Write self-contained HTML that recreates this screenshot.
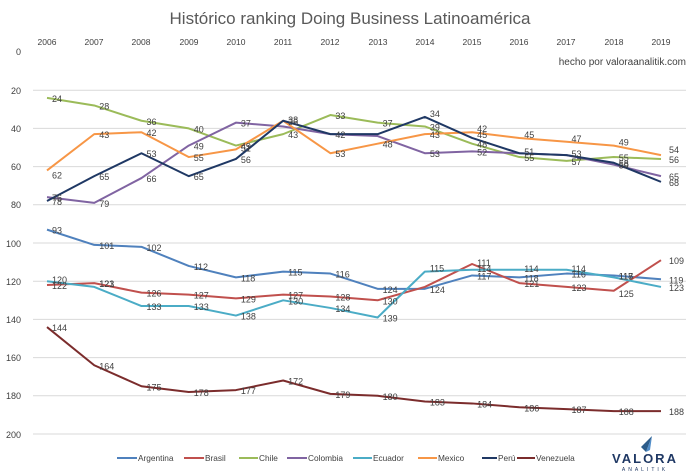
<!DOCTYPE html>
<html><head><meta charset="utf-8"><style>
body{margin:0;background:#fff}
svg{display:block;font-family:"Liberation Sans",sans-serif}
.l{fill:none;stroke-width:2;vector-effect:non-scaling-stroke;stroke-linejoin:round}
.d text{font-size:9px;fill:#404040}
</style></head><body>
<svg width="700" height="473" viewBox="0 0 700 473">
<text x="350" y="24" text-anchor="middle" font-size="17" fill="#595959">Histórico ranking Doing Business Latinoamérica</text>
<g font-size="8.5" fill="#404040" text-anchor="middle">
<text x="47" y="45">2006</text><text x="94" y="45">2007</text><text x="141" y="45">2008</text><text x="189" y="45">2009</text><text x="236" y="45">2010</text><text x="283" y="45">2011</text><text x="330" y="45">2012</text><text x="378" y="45">2013</text><text x="425" y="45">2014</text><text x="472" y="45">2015</text><text x="519" y="45">2016</text><text x="566" y="45">2017</text><text x="614" y="45">2018</text><text x="661" y="45">2019</text>
</g>
<g font-size="9" fill="#404040" text-anchor="end">
<text x="21" y="55">0</text><text x="21" y="94">20</text><text x="21" y="132">40</text><text x="21" y="170">60</text><text x="21" y="208">80</text><text x="21" y="247">100</text><text x="21" y="285">120</text><text x="21" y="323">140</text><text x="21" y="361">160</text><text x="21" y="399">180</text><text x="21" y="438">200</text>
</g>
<g stroke="#d9d9d9" stroke-width="1">
<line x1="33" x2="686" y1="90.2" y2="90.2"/><line x1="33" x2="686" y1="128.4" y2="128.4"/><line x1="33" x2="686" y1="166.6" y2="166.6"/><line x1="33" x2="686" y1="204.8" y2="204.8"/><line x1="33" x2="686" y1="243" y2="243"/><line x1="33" x2="686" y1="281.2" y2="281.2"/><line x1="33" x2="686" y1="319.4" y2="319.4"/><line x1="33" x2="686" y1="357.6" y2="357.6"/><line x1="33" x2="686" y1="395.8" y2="395.8"/><line x1="33" x2="686" y1="434" y2="434"/>
</g>
<text x="686" y="65" text-anchor="end" font-size="10" fill="#404040">hecho por valoraanalitik.com</text>
<g transform="translate(47,52) scale(47.23,1.91)">
<polyline class="l" stroke="#4f81bd" points="0,93 1,101 2,102 3,112 4,118 5,115 6,116 7,124 8,124 9,117 10,118 11,116 12,117 13,119"/>
<polyline class="l" stroke="#c0504d" points="0,122 1,121 2,126 3,127 4,129 5,127 6,128 7,130 8,123 9,111 10,121 11,123 12,125 13,109"/>
<polyline class="l" stroke="#9bbb59" points="0,24 1,28 2,36 3,40 4,49 5,43 6,33 7,37 8,39 9,48 10,55 11,57 12,55 13,56"/>
<polyline class="l" stroke="#8064a2" points="0,76 1,79 2,66 3,49 4,37 5,39 6,43 7,44 8,53 9,52 10,53 11,54 12,59 13,65"/>
<polyline class="l" stroke="#4bacc6" points="0,120 1,123 2,133 3,133 4,138 5,130 6,134 7,139 8,115 9,114 10,114 11,114 12,118 13,123"/>
<polyline class="l" stroke="#f79646" points="0,62 1,43 2,42 3,55 4,51 5,36 6,53 7,48 8,43 9,42 10,45 11,47 12,49 13,54"/>
<polyline class="l" stroke="#1f3864" points="0,78 1,65 2,53 3,65 4,56 5,36 6,43 7,43 8,34 9,45 10,53 11,54 12,58 13,68"/>
<polyline class="l" stroke="#7b2c2c" points="0,144 1,164 2,175 3,178 4,177 5,172 6,179 7,180 8,183 9,184 10,186 11,187 12,188 13,188"/>
<g class="d">
<text transform="translate(0,93) scale(.021173,.52356)" x="5" y="4">93</text>
<text transform="translate(1,101) scale(.021173,.52356)" x="5" y="4">101</text>
<text transform="translate(2,102) scale(.021173,.52356)" x="5" y="4">102</text>
<text transform="translate(3,112) scale(.021173,.52356)" x="5" y="4">112</text>
<text transform="translate(4,118) scale(.021173,.52356)" x="5" y="4">118</text>
<text transform="translate(5,115) scale(.021173,.52356)" x="5" y="4">115</text>
<text transform="translate(6,116) scale(.021173,.52356)" x="5" y="4">116</text>
<text transform="translate(7,124) scale(.021173,.52356)" x="5" y="4">124</text>
<text transform="translate(8,124) scale(.021173,.52356)" x="5" y="4">124</text>
<text transform="translate(9,117) scale(.021173,.52356)" x="5" y="4">117</text>
<text transform="translate(10,118) scale(.021173,.52356)" x="5" y="4">118</text>
<text transform="translate(11,116) scale(.021173,.52356)" x="5" y="4">116</text>
<text transform="translate(12,117) scale(.021173,.52356)" x="5" y="4">117</text>
<text transform="translate(13,119) scale(.021173,.52356)" x="8" y="4">119</text>
<text transform="translate(0,122) scale(.021173,.52356)" x="5" y="4">122</text>
<text transform="translate(1,121) scale(.021173,.52356)" x="5" y="4">121</text>
<text transform="translate(2,126) scale(.021173,.52356)" x="5" y="4">126</text>
<text transform="translate(3,127) scale(.021173,.52356)" x="5" y="4">127</text>
<text transform="translate(4,129) scale(.021173,.52356)" x="5" y="4">129</text>
<text transform="translate(5,127) scale(.021173,.52356)" x="5" y="4">127</text>
<text transform="translate(6,128) scale(.021173,.52356)" x="5" y="4">128</text>
<text transform="translate(7,130) scale(.021173,.52356)" x="5" y="4">130</text>
<text transform="translate(9,111) scale(.021173,.52356)" x="5" y="2">111</text>
<text transform="translate(10,121) scale(.021173,.52356)" x="5" y="4">121</text>
<text transform="translate(11,123) scale(.021173,.52356)" x="5" y="4">123</text>
<text transform="translate(12,125) scale(.021173,.52356)" x="5" y="6">125</text>
<text transform="translate(13,109) scale(.021173,.52356)" x="8" y="4">109</text>
<text transform="translate(0,24) scale(.021173,.52356)" x="5" y="4">24</text>
<text transform="translate(1,28) scale(.021173,.52356)" x="5" y="4">28</text>
<text transform="translate(2,36) scale(.021173,.52356)" x="5" y="4">36</text>
<text transform="translate(3,40) scale(.021173,.52356)" x="5" y="4">40</text>
<text transform="translate(4,49) scale(.021173,.52356)" x="5" y="4">49</text>
<text transform="translate(5,43) scale(.021173,.52356)" x="5" y="4">43</text>
<text transform="translate(6,33) scale(.021173,.52356)" x="5" y="4">33</text>
<text transform="translate(7,37) scale(.021173,.52356)" x="5" y="4">37</text>
<text transform="translate(8,39) scale(.021173,.52356)" x="5" y="4">39</text>
<text transform="translate(9,48) scale(.021173,.52356)" x="5" y="4">48</text>
<text transform="translate(10,55) scale(.021173,.52356)" x="5" y="4">55</text>
<text transform="translate(11,57) scale(.021173,.52356)" x="5" y="4">57</text>
<text transform="translate(12,55) scale(.021173,.52356)" x="5" y="4">55</text>
<text transform="translate(13,56) scale(.021173,.52356)" x="8" y="4">56</text>
<text transform="translate(0,76) scale(.021173,.52356)" x="5" y="4">76</text>
<text transform="translate(1,79) scale(.021173,.52356)" x="5" y="4">79</text>
<text transform="translate(2,66) scale(.021173,.52356)" x="5" y="4">66</text>
<text transform="translate(3,49) scale(.021173,.52356)" x="5" y="4">49</text>
<text transform="translate(4,37) scale(.021173,.52356)" x="5" y="4">37</text>
<text transform="translate(7,48) scale(.021173,.52356)" x="5" y="4">48</text>
<text transform="translate(8,53) scale(.021173,.52356)" x="5" y="4">53</text>
<text transform="translate(9,52) scale(.021173,.52356)" x="5" y="4">52</text>
<text transform="translate(10,53) scale(.021173,.52356)" x="5" y="2">51</text>
<text transform="translate(11,54) scale(.021173,.52356)" x="5" y="2">53</text>
<text transform="translate(12,59) scale(.021173,.52356)" x="5" y="4">59</text>
<text transform="translate(13,65) scale(.021173,.52356)" x="8" y="4">65</text>
<text transform="translate(0,120) scale(.021173,.52356)" x="5" y="2">120</text>
<text transform="translate(1,123) scale(.021173,.52356)" x="5" y="0">123</text>
<text transform="translate(2,133) scale(.021173,.52356)" x="5" y="4">133</text>
<text transform="translate(3,133) scale(.021173,.52356)" x="5" y="4">133</text>
<text transform="translate(4,138) scale(.021173,.52356)" x="5" y="4">138</text>
<text transform="translate(5,130) scale(.021173,.52356)" x="5" y="4">130</text>
<text transform="translate(6,134) scale(.021173,.52356)" x="5" y="4">134</text>
<text transform="translate(7,139) scale(.021173,.52356)" x="5" y="4">139</text>
<text transform="translate(8,115) scale(.021173,.52356)" x="5" y="0">115</text>
<text transform="translate(9,114) scale(.021173,.52356)" x="5" y="2">114</text>
<text transform="translate(10,114) scale(.021173,.52356)" x="5" y="2">114</text>
<text transform="translate(11,114) scale(.021173,.52356)" x="5" y="2">114</text>
<text transform="translate(12,118) scale(.021173,.52356)" x="5" y="2">118</text>
<text transform="translate(13,123) scale(.021173,.52356)" x="8" y="4">123</text>
<text transform="translate(0,62) scale(.021173,.52356)" x="5" y="8">62</text>
<text transform="translate(1,43) scale(.021173,.52356)" x="5" y="4">43</text>
<text transform="translate(2,42) scale(.021173,.52356)" x="5" y="4">42</text>
<text transform="translate(3,55) scale(.021173,.52356)" x="5" y="4">55</text>
<text transform="translate(4,51) scale(.021173,.52356)" x="5" y="2">51</text>
<text transform="translate(5,36) scale(.021173,.52356)" x="5" y="4">36</text>
<text transform="translate(6,53) scale(.021173,.52356)" x="5" y="4">53</text>
<text transform="translate(8,43) scale(.021173,.52356)" x="5" y="4">43</text>
<text transform="translate(9,42) scale(.021173,.52356)" x="5" y="0">42</text>
<text transform="translate(10,45) scale(.021173,.52356)" x="5" y="0">45</text>
<text transform="translate(11,47) scale(.021173,.52356)" x="5" y="0">47</text>
<text transform="translate(12,49) scale(.021173,.52356)" x="5" y="0">49</text>
<text transform="translate(13,54) scale(.021173,.52356)" x="8" y="-2">54</text>
<text transform="translate(0,78) scale(.021173,.52356)" x="5" y="4">78</text>
<text transform="translate(1,65) scale(.021173,.52356)" x="5" y="4">65</text>
<text transform="translate(2,53) scale(.021173,.52356)" x="5" y="4">53</text>
<text transform="translate(3,65) scale(.021173,.52356)" x="5" y="4">65</text>
<text transform="translate(4,56) scale(.021173,.52356)" x="5" y="4">56</text>
<text transform="translate(5,36) scale(.021173,.52356)" x="5" y="2">38</text>
<text transform="translate(6,43) scale(.021173,.52356)" x="5" y="4">42</text>
<text transform="translate(8,34) scale(.021173,.52356)" x="5" y="0">34</text>
<text transform="translate(9,45) scale(.021173,.52356)" x="5" y="0">45</text>
<text transform="translate(12,58) scale(.021173,.52356)" x="5" y="4">58</text>
<text transform="translate(13,68) scale(.021173,.52356)" x="8" y="4">68</text>
<text transform="translate(0,144) scale(.021173,.52356)" x="5" y="4">144</text>
<text transform="translate(1,164) scale(.021173,.52356)" x="5" y="4">164</text>
<text transform="translate(2,175) scale(.021173,.52356)" x="5" y="4">175</text>
<text transform="translate(3,178) scale(.021173,.52356)" x="5" y="4">178</text>
<text transform="translate(4,177) scale(.021173,.52356)" x="5" y="4">177</text>
<text transform="translate(5,172) scale(.021173,.52356)" x="5" y="4">172</text>
<text transform="translate(6,179) scale(.021173,.52356)" x="5" y="4">179</text>
<text transform="translate(7,180) scale(.021173,.52356)" x="5" y="4">180</text>
<text transform="translate(8,183) scale(.021173,.52356)" x="5" y="4">183</text>
<text transform="translate(9,184) scale(.021173,.52356)" x="5" y="4">184</text>
<text transform="translate(10,186) scale(.021173,.52356)" x="5" y="4">186</text>
<text transform="translate(11,187) scale(.021173,.52356)" x="5" y="4">187</text>
<text transform="translate(12,188) scale(.021173,.52356)" x="5" y="4">188</text>
<text transform="translate(13,188) scale(.021173,.52356)" x="8" y="4">188</text>
</g>
</g>
<g font-size="8.3" fill="#404040" stroke-width="2">
<line x1="117" x2="137" y1="458" y2="458" stroke="#4f81bd"/><text x="138" y="461">Argentina</text>
<line x1="184" x2="204" y1="458" y2="458" stroke="#c0504d"/><text x="205" y="461">Brasil</text>
<line x1="239" x2="258" y1="458" y2="458" stroke="#9bbb59"/><text x="259" y="461">Chile</text>
<line x1="287" x2="307" y1="458" y2="458" stroke="#8064a2"/><text x="308" y="461">Colombia</text>
<line x1="353" x2="372" y1="458" y2="458" stroke="#4bacc6"/><text x="373" y="461">Ecuador</text>
<line x1="418" x2="437" y1="458" y2="458" stroke="#f79646"/><text x="438" y="461">Mexico</text>
<line x1="482" x2="497" y1="458" y2="458" stroke="#1f3864"/><text x="498" y="461">Perú</text>
<line x1="517" x2="535" y1="458" y2="458" stroke="#7b2c2c"/><text x="536" y="461">Venezuela</text>
</g>
<polygon points="652,436 641,447 646,452" fill="#2c5c8a"/>
<polygon points="652,436 646,452 650,450" fill="#4f8cc9"/>
<text x="645" y="463" text-anchor="middle" font-size="13" font-weight="bold" fill="#1f3864" letter-spacing="2">VALORA</text>
<text x="645" y="471" text-anchor="middle" font-size="5" fill="#1f3864" letter-spacing="3">ANALITIK</text>
</svg>
</body></html>
